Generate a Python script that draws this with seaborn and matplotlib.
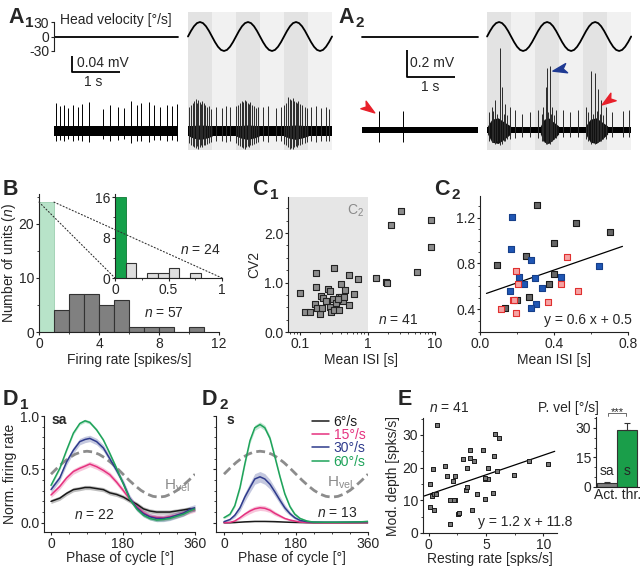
import numpy as np
import pandas as pd
import matplotlib
matplotlib.use("Agg")
import matplotlib.pyplot as plt
import seaborn as sns
from matplotlib.patches import ConnectionPatch
from matplotlib.path import Path
from matplotlib.lines import Line2D
from matplotlib.ticker import MultipleLocator, NullFormatter

# ======================= DATA =======================
# --- Panel A: head-velocity stimulus (one cycle, 1/16 steps, deg/s)
vel_cycle = [0, 11.5, 21.2, 27.7, 30, 27.7, 21.2, 11.5, 0, -11.5, -21.2, -27.7, -30, -27.7, -21.2, -11.5]
n_cycles = 3
vel_period = 1.0  # s

# A1 recording (time in s, voltage in mV)
a1_rest = [0.0, 2.58]
a1_stim_start = 2.79
a1_noise = 0.012
a1_rest_t = [0.04, 0.125, 0.21, 0.29, 0.40, 0.50, 0.58, 0.73, 1.02, 1.17, 1.33, 1.46, 1.60, 1.73, 1.81,
             1.98, 2.08, 2.21, 2.35, 2.46, 2.56]
a1_rest_up = [0.070, 0.062, 0.066, 0.058, 0.064, 0.060, 0.068, 0.072, 0.056, 0.064, 0.060, 0.058, 0.074,
              0.066, 0.070, 0.072, 0.064, 0.060, 0.066, 0.062, 0.068]
a1_rest_dn = [-0.026, -0.022, -0.025, -0.020, -0.024, -0.022, -0.026, -0.028, -0.020, -0.024, -0.022,
              -0.021, -0.030, -0.024, -0.026, -0.027, -0.023, -0.022, -0.025, -0.022, -0.024]
a1_stim_t = [2.82, 2.86, 2.89, 2.92, 2.95, 2.98, 3.00, 3.03, 3.06, 3.09, 3.12, 3.15, 3.19, 3.23, 3.27,
             3.38, 3.50, 3.58, 3.66,
             3.80, 3.84, 3.88, 3.91, 3.94, 3.97, 4.00, 4.03, 4.06, 4.09, 4.12, 4.16, 4.20, 4.25,
             4.36, 4.46, 4.62, 4.72,
             4.80, 4.84, 4.88, 4.91, 4.94, 4.97, 5.00, 5.03, 5.06, 5.09, 5.13, 5.17, 5.22, 5.27,
             5.35, 5.45, 5.55, 5.66, 5.72]
a1_stim_up = [0.060, 0.065, 0.070, 0.075, 0.080, 0.070, 0.078, 0.072, 0.068, 0.075, 0.070, 0.065, 0.060, 0.062, 0.055,
              0.060, 0.058, 0.062, 0.060,
              0.062, 0.066, 0.070, 0.075, 0.072, 0.078, 0.074, 0.070, 0.068, 0.072, 0.066, 0.062, 0.058, 0.060,
              0.060, 0.062, 0.058, 0.060,
              0.065, 0.070, 0.085, 0.080, 0.078, 0.082, 0.076, 0.072, 0.070, 0.074, 0.068, 0.064, 0.060, 0.058,
              0.060, 0.062, 0.058, 0.060, 0.056]
a1_stim_dn = [-0.030, -0.034, -0.038, -0.040, -0.042, -0.038, -0.044, -0.040, -0.036, -0.040, -0.036, -0.034, -0.032, -0.030, -0.028,
              -0.026, -0.026, -0.028, -0.026,
              -0.030, -0.034, -0.038, -0.040, -0.042, -0.044, -0.040, -0.038, -0.040, -0.036, -0.034, -0.032, -0.030, -0.028,
              -0.026, -0.028, -0.026, -0.026,
              -0.032, -0.036, -0.040, -0.044, -0.042, -0.045, -0.040, -0.038, -0.040, -0.036, -0.034, -0.032, -0.030, -0.028,
              -0.026, -0.028, -0.026, -0.026, -0.025]
a1_burst_t = [[2.80, 2.90, 3.05, 3.20, 3.30], [3.78, 3.90, 4.03, 4.18, 4.28], [4.78, 4.90, 5.03, 5.18, 5.30]]
a1_burst_hi = [0.012, 0.014, 0.015, 0.014, 0.012]
a1_burst_lo = [-0.012, -0.018, -0.021, -0.017, -0.012]

# A2 recording
a2_rest = [0.146, 2.56]
a2_stim_start = 2.75
a2_noise = 0.022
a2_rest_t = [0.50, 1.00]
a2_rest_up = [0.14, 0.14]
a2_rest_dn = [-0.088, -0.088]
a2_stim_t = [2.80, 2.85, 2.88, 2.92, 2.96, 3.01, 3.06, 3.10, 3.13, 3.17, 3.23, 3.33, 3.47, 3.64,
             3.81, 3.90, 3.92, 3.97, 4.00, 4.02, 4.05, 4.08, 4.11, 4.14, 4.19, 4.33, 4.47, 4.64,
             4.81, 4.86, 4.92, 4.95, 5.00, 5.03, 5.06, 5.10, 5.13, 5.17, 5.23, 5.36, 5.57, 5.71]
a2_stim_up = [0.13, 0.17, 0.14, 0.22, 0.12, 0.61, 0.32, 0.12, 0.19, 0.11, 0.17, 0.15, 0.12, 0.13,
              0.15, 0.12, 0.17, 0.32, 0.46, 0.13, 0.47, 0.12, 0.17, 0.11, 0.15, 0.15, 0.13, 0.15,
              0.17, 0.13, 0.44, 0.12, 0.42, 0.14, 0.30, 0.12, 0.22, 0.11, 0.17, 0.13, 0.14, 0.15]
a2_stim_dn = [-0.08, -0.09, -0.09, -0.10, -0.08, -0.11, -0.10, -0.08, -0.08, -0.07, -0.07, -0.06, -0.05, -0.05,
              -0.06, -0.08, -0.08, -0.10, -0.10, -0.09, -0.10, -0.08, -0.08, -0.07, -0.06, -0.05, -0.05, -0.05,
              -0.07, -0.08, -0.10, -0.09, -0.10, -0.09, -0.09, -0.08, -0.08, -0.07, -0.07, -0.05, -0.05, -0.05]
a2_burst_t = [[2.76, 2.85, 2.98, 3.10, 3.24], [3.86, 3.94, 4.03, 4.13, 4.24], [4.80, 4.90, 5.02, 5.14, 5.26]]
a2_burst_hi = [0.03, 0.08, 0.09, 0.06, 0.03]
a2_burst_lo = [-0.03, -0.09, -0.10, -0.07, -0.03]
# arrowheads in A2: (time, mV, pointing angle in deg, colour)
a2_arrows = [(0.27, 0.163, -35, '#e8202a'), (4.27, 0.45, 192, '#1f3a93'), (5.27, 0.222, 215, '#e8202a')]

# --- Panel B: firing-rate histograms
b_edges = [0, 1, 2, 3, 4, 5, 6, 7, 8, 9, 10, 11]
b_counts = [24, 4, 7, 7, 5, 6, 1, 1, 1, 0, 1]
bi_edges = [0, 0.1, 0.2, 0.3, 0.4, 0.5, 0.6, 0.7, 0.8]
bi_counts = [16, 3, 0, 1, 1, 2, 0, 1]

# --- Panel C1: CV2 vs mean ISI (log)
c1_isi = [0.099, 0.119, 0.139, 0.167, 0.175, 0.171, 0.181, 0.199, 0.204, 0.211, 0.220, 0.247, 0.256, 0.277,
          0.277, 0.287, 0.304, 0.315, 0.322, 0.341, 0.373, 0.382, 0.405, 0.405, 0.428, 0.454, 0.470, 0.526,
          0.526, 0.640, 0.718, 1.35, 1.90, 1.97, 2.26, 3.18, 5.45, 8.61, 8.71, 0.24, 0.36]
c1_cv2 = [0.78, 0.40, 0.41, 0.57, 1.19, 0.91, 0.49, 0.37, 0.73, 0.49, 0.68, 0.63, 0.87, 0.83,
          0.51, 0.40, 0.67, 1.30, 0.45, 0.58, 0.45, 0.70, 0.98, 0.71, 0.63, 0.70, 0.85, 0.55,
          1.15, 0.77, 1.08, 1.10, 1.02, 1.00, 2.17, 2.45, 1.21, 2.27, 1.71, 0.62, 0.66]

# --- Panel C2: zoom, linear
c2_gray_x = [0.094, 0.135, 0.201, 0.248, 0.266, 0.306, 0.374, 0.399, 0.401, 0.518, 0.705]
c2_gray_y = [0.785, 0.406, 0.476, 0.868, 0.509, 1.312, 0.618, 0.709, 0.979, 1.156, 1.079]
c2_blue_x = [0.173, 0.165, 0.162, 0.210, 0.239, 0.277, 0.299, 0.333, 0.302, 0.273, 0.437, 0.642]
c2_blue_y = [1.209, 0.926, 0.562, 0.685, 0.621, 0.826, 0.671, 0.588, 0.441, 0.412, 0.685, 0.774]
c2_red_x = [0.112, 0.176, 0.182, 0.194, 0.207, 0.194, 0.365, 0.437, 0.468, 0.531]
c2_red_y = [0.397, 0.479, 0.479, 0.735, 0.618, 0.362, 0.459, 0.621, 0.856, 0.559]
c2_fit = [0.56, 0.518]          # slope, intercept
c2_fit_range = [0.035, 0.77]

# --- Panel D: normalised firing rate vs phase
d_speeds = ['6°/s', '15°/s', '30°/s', '60°/s']
d_colors = {'6°/s': '#1a1a1a', '15°/s': '#e5317f', '30°/s': '#2e3a8c', '60°/s': '#1ea35a'}
hvel_phase = [0, 15, 30, 45, 60, 75, 90, 105, 120, 135, 150, 165, 180, 195, 210, 225, 240, 255, 270,
              285, 300, 315, 330, 345, 360]
hvel_norm = [0.455, 0.511, 0.563, 0.607, 0.641, 0.663, 0.670, 0.663, 0.641, 0.607, 0.563, 0.511, 0.455,
             0.399, 0.348, 0.303, 0.269, 0.247, 0.240, 0.247, 0.269, 0.303, 0.348, 0.399, 0.455]

d1_phase = [0, 22, 39, 56, 72, 85, 97, 114, 131, 147, 164, 181, 197, 214, 231, 247, 264, 281, 297, 314, 331, 347, 360]
d1_rate = {
    '60°/s': [0.35, 0.51, 0.68, 0.84, 0.93, 0.955, 0.94, 0.87, 0.775, 0.65, 0.51, 0.36, 0.22, 0.13, 0.07, 0.04,
              0.025, 0.03, 0.04, 0.06, 0.08, 0.11, 0.13],
    '30°/s': [0.31, 0.42, 0.57, 0.68, 0.76, 0.78, 0.79, 0.76, 0.70, 0.60, 0.49, 0.37, 0.23, 0.14, 0.085, 0.056,
              0.04, 0.04, 0.05, 0.07, 0.09, 0.125, 0.14],
    '15°/s': [0.26, 0.34, 0.42, 0.48, 0.51, 0.53, 0.55, 0.525, 0.49, 0.45, 0.38, 0.30, 0.22, 0.15, 0.094, 0.06,
              0.05, 0.047, 0.056, 0.07, 0.09, 0.11, 0.125],
    '6°/s': [0.20, 0.23, 0.275, 0.31, 0.32, 0.33, 0.33, 0.32, 0.31, 0.28, 0.265, 0.24, 0.205, 0.175, 0.13, 0.11,
             0.10, 0.10, 0.10, 0.11, 0.12, 0.13, 0.13],
}
d1_sem = {'60°/s': 0.015, '30°/s': 0.03, '15°/s': 0.025, '6°/s': 0.02}

d2_phase = [0, 15, 27, 40, 52, 65, 77, 90, 102, 115, 127, 140, 152, 165, 177, 190, 207, 223, 250, 280, 310, 340, 360]
d2_rate = {
    '60°/s': [0.047, 0.08, 0.16, 0.33, 0.55, 0.77, 0.89, 0.92, 0.89, 0.79, 0.62, 0.43, 0.27, 0.15, 0.08, 0.04,
              0.016, 0.006, 0.005, 0.005, 0.006, 0.008, 0.012],
    '30°/s': [0.01, 0.03, 0.07, 0.14, 0.24, 0.33, 0.41, 0.43, 0.41, 0.36, 0.29, 0.21, 0.14, 0.085, 0.047, 0.022,
              0.01, 0.006, 0.005, 0.005, 0.006, 0.008, 0.01],
    '15°/s': [0.0, 0.003, 0.016, 0.047, 0.08, 0.11, 0.13, 0.14, 0.135, 0.117, 0.088, 0.063, 0.04, 0.025, 0.016,
              0.006, 0.002, 0.001, 0.0, 0.0, 0.0, 0.001, 0.002],
    '6°/s': [0.0, 0.0, 0.002, 0.005, 0.008, 0.01, 0.012, 0.012, 0.012, 0.011, 0.01, 0.008, 0.006, 0.004, 0.003,
             0.002, 0.001, 0.0, 0.0, 0.0, 0.0, 0.0, 0.0],
}
d2_sem = {
    '60°/s': [0.01, 0.012, 0.015, 0.02, 0.022, 0.025, 0.025, 0.025, 0.025, 0.025, 0.025, 0.022, 0.02, 0.018,
              0.015, 0.012, 0.01, 0.008, 0.006, 0.006, 0.006, 0.006, 0.006],
    '30°/s': [0.005, 0.01, 0.02, 0.03, 0.04, 0.045, 0.05, 0.05, 0.05, 0.045, 0.04, 0.035, 0.03, 0.02, 0.015,
              0.01, 0.005, 0.004, 0.003, 0.003, 0.003, 0.003, 0.003],
    '15°/s': [0.002, 0.003, 0.008, 0.015, 0.02, 0.025, 0.025, 0.025, 0.025, 0.022, 0.02, 0.015, 0.01, 0.008,
              0.005, 0.003, 0.002, 0.002, 0.002, 0.002, 0.002, 0.002, 0.002],
    '6°/s': [0.002] * 23,
}

# --- Panel E
e_rest = [0.73, 0.15, 0.12, 0.35, 0.26, 0.49, 0.49, 1.42, 1.57, 1.89, 1.89, 2.15, 2.30, 2.30, 2.53, 2.67,
          3.00, 3.31, 3.26, 3.34, 3.58, 3.63, 3.98, 3.75, 4.19, 4.71, 4.88, 4.88, 5.15, 5.15, 5.58, 5.67,
          5.81, 5.93, 6.16, 7.41, 8.78, 10.44, 2.20, 0.60, 4.90]
e_mod = [33.0, 14.9, 8.0, 19.7, 11.2, 12.0, 7.1, 20.4, 17.3, 10.1, 2.9, 15.9, 10.1, 17.3, 5.9, 6.1,
         22.8, 20.0, 13.1, 14.1, 25.5, 23.1, 22.0, 7.1, 12.0, 25.3, 16.6, 10.5, 19.9, 16.6, 12.3, 23.7,
         30.4, 18.9, 29.2, 17.7, 21.9, 21.0, 10.1, 11.8, 16.8]
e_fit = [1.2, 11.8]
e_fit_range = [-0.4, 11.0]
e_groups = ['sa', 's']
e_thr = [2.0, 28.8]
e_thr_err = [0.6, 3.5]

# ======================= STYLE =======================
sns.set_style("ticks")
plt.rcParams['font.family'] = ['Liberation Sans', 'DejaVu Sans']
plt.rcParams.update({
    'mathtext.fontset': 'custom',
    'mathtext.rm': 'Liberation Sans',
    'mathtext.it': 'Liberation Sans:italic',
    'mathtext.bf': 'Liberation Sans:bold',
    'axes.unicode_minus': False,
    'font.size': 10,
    'axes.linewidth': 0.8,
    'axes.edgecolor': '#222222',
    'xtick.major.size': 2.2, 'ytick.major.size': 2.2,
    'xtick.minor.size': 1.3, 'ytick.minor.size': 1.3,
    'xtick.major.width': 0.8, 'ytick.major.width': 0.8,
    'xtick.minor.width': 0.6, 'ytick.minor.width': 0.6,
    'xtick.major.pad': 1.2, 'ytick.major.pad': 1.2,
    'xtick.labelsize': 10, 'ytick.labelsize': 10,
    'axes.labelsize': 10,
})

W, H = 640, 567
fig = plt.figure(figsize=(W / 100, H / 100), dpi=100)


def box(l, t, r, b):
    return fig.add_axes([l / W, 1 - b / H, (r - l) / W, (b - t) / H])


def ftext(x, y, s, **kw):
    fig.text(x / W, 1 - y / H, s, **kw)


def despine(ax):
    ax.spines['top'].set_visible(False)
    ax.spines['right'].set_visible(False)


shade_light = '#f1f1f1'
shade_dark = '#e3e3e3'


def arrow_marker(angle):
    v = np.array([(1.0, 0.0), (-0.8, 0.6), (-0.35, 0.0), (-0.8, -0.6), (1.0, 0.0)])
    a = np.deg2rad(angle)
    rot = np.array([[np.cos(a), -np.sin(a)], [np.sin(a), np.cos(a)]])
    v = v @ rot.T
    return Path(v, [Path.MOVETO, Path.LINETO, Path.LINETO, Path.LINETO, Path.CLOSEPOLY])


def draw_trace(ax, rest, stim_start, noise, rest_t, rest_up, rest_dn, stim_t, stim_up, stim_dn,
               burst_t, burst_hi, burst_lo, lw_sp):
    stim_end = stim_start + n_cycles * vel_period
    ax.axvspan(stim_start, stim_end, color=shade_light, lw=0, zorder=0)
    for k in range(n_cycles):
        s0 = stim_start + k * vel_period
        ax.axvspan(s0, s0 + vel_period / 2, color=shade_dark, lw=0, zorder=0)
    for t0, t1 in [rest, [stim_start, stim_end]]:
        ax.fill_between([t0, t1], [-noise, -noise], [noise, noise], color='k', lw=0, zorder=2)
    for bt in burst_t:
        ax.fill_between(bt, burst_lo, burst_hi, color='#111111', lw=0, zorder=2)
    ax.vlines(rest_t, rest_dn, rest_up, color='k', lw=lw_sp, zorder=3)
    ax.vlines(stim_t, stim_dn, stim_up, color='#2a2a2a', lw=lw_sp, zorder=3)


def draw_velocity(ax, rest, stim_start):
    ax.plot(rest, [0, 0], color='k', lw=1.3)
    nstep = len(vel_cycle)
    tt = stim_start + np.arange(nstep * n_cycles + 1) * vel_period / nstep
    vv = vel_cycle * n_cycles + [vel_cycle[0]]
    ax.plot(tt, vv, color='k', lw=1.3)
    ax.set_ylim(-44.5, 44.5)
    ax.patch.set_alpha(0)
    for s in ['top', 'right', 'bottom']:
        ax.spines[s].set_visible(False)
    ax.xaxis.set_visible(False)


# ======================= PANEL A1 =======================
axA1 = box(54, 12, 333, 150)
axA1.set_xlim(0, 5.81)
axA1.set_ylim(-0.0475, 0.2975)
axA1.axis('off')
draw_trace(axA1, a1_rest, a1_stim_start, a1_noise, a1_rest_t, a1_rest_up, a1_rest_dn,
           a1_stim_t, a1_stim_up, a1_stim_dn, a1_burst_t, a1_burst_hi, a1_burst_lo, 0.7)
sb_x, sb_y = 0.375, 0.1475
axA1.plot([sb_x, sb_x, sb_x + 1.0], [sb_y + 0.04, sb_y, sb_y], color='k', lw=1.3, solid_capstyle='butt')
axA1.text(sb_x + 0.1, sb_y + 0.022, '0.04 mV', fontsize=10, va='center', ha='left')
axA1.text(sb_x + 0.45, sb_y - 0.008, '1 s', fontsize=10, va='top', ha='center')

axV1 = box(54, 15, 333, 58)
axV1.set_xlim(0, 5.81)
draw_velocity(axV1, a1_rest, a1_stim_start)
axV1.spines['left'].set_bounds(-30, 30)
axV1.set_yticks([-30, 0, 30])
axV1.set_yticklabels(['-30', '0', '30'])
axV1.text(0.125, 34, 'Head velocity [°/s]', fontsize=10, va='center', ha='left')

# ======================= PANEL A2 =======================
axA2 = box(355, 12, 635, 150)
axA2.set_xlim(0, 5.83)
axA2.set_ylim(-0.148, 0.873)
axA2.axis('off')
draw_trace(axA2, a2_rest, a2_stim_start, a2_noise, a2_rest_t, a2_rest_up, a2_rest_dn,
           a2_stim_t, a2_stim_up, a2_stim_dn, a2_burst_t, a2_burst_hi, a2_burst_lo, 0.7)
sb2_x, sb2_y = 1.083, 0.392
axA2.plot([sb2_x, sb2_x, sb2_x + 1.0], [sb2_y + 0.2, sb2_y, sb2_y], color='k', lw=1.3, solid_capstyle='butt')
axA2.text(sb2_x + 0.07, sb2_y + 0.105, '0.2 mV', fontsize=10, va='center', ha='left')
axA2.text(sb2_x + 0.48, sb2_y - 0.02, '1 s', fontsize=10, va='top', ha='center')
for (t, v, ang, col) in a2_arrows:
    axA2.plot([t], [v], marker=arrow_marker(ang), ms=11, color=col, ls='none', zorder=5)

axV2 = box(355, 15, 635, 58)
axV2.set_xlim(0, 5.83)
draw_velocity(axV2, a2_rest, a2_stim_start)
axV2.spines['left'].set_visible(False)
axV2.set_yticks([])

# ======================= PANEL B =======================
axB = box(39, 194, 219, 332)
b_centers = [(a + b) / 2 for a, b in zip(b_edges[:-1], b_edges[1:])]
sns.histplot(x=b_centers[:1], weights=b_counts[:1], bins=b_edges[:2], color='#b8e3c9',
             edgecolor='#9ccfb0', linewidth=0.6, alpha=1, ax=axB)
sns.histplot(x=b_centers[1:], weights=b_counts[1:], bins=b_edges[1:], color='#808080',
             edgecolor='#333333', linewidth=0.8, alpha=1, ax=axB)
axB.set_xlim(0, 12)
axB.set_ylim(0, 25.5)
axB.set_xticks([0, 4, 8, 12])
axB.xaxis.set_minor_locator(MultipleLocator(2))
axB.set_yticks([0, 10, 20])
axB.yaxis.set_minor_locator(MultipleLocator(5))
axB.set_xlabel('Firing rate [spikes/s]', labelpad=1.5)
axB.set_ylabel('Number of units ($n$)', labelpad=0.5)
axB.text(8.3, 3.5, '$n$ = 57', ha='center', va='center', fontsize=10)
despine(axB)

axBi = box(115, 194, 222, 278)
bi_centers = [(a + b) / 2 for a, b in zip(bi_edges[:-1], bi_edges[1:])]
sns.histplot(x=bi_centers[:1], weights=bi_counts[:1], bins=bi_edges[:2], color='#14a04a',
             edgecolor='#0d7a35', linewidth=0.6, alpha=1, ax=axBi)
sns.histplot(x=bi_centers[1:], weights=bi_counts[1:], bins=bi_edges[1:], color='#dedede',
             edgecolor='#333333', linewidth=0.8, alpha=1, ax=axBi)
axBi.set_xlim(0, 1)
axBi.set_ylim(0, 16.6)
axBi.set_xticks([0, 0.5, 1])
axBi.set_xticklabels(['0', '0.5', '1'])
axBi.xaxis.set_minor_locator(MultipleLocator(0.25))
axBi.set_yticks([0, 8, 16])
axBi.yaxis.set_minor_locator(MultipleLocator(4))
axBi.set_xlabel('')
axBi.set_ylabel('')
axBi.patch.set_alpha(0)
axBi.text(0.80, 5.5, '$n$ = 24', ha='center', va='center', fontsize=10)
despine(axBi)
for (xa, xb) in [(0, 0), (1, 1)]:
    con = ConnectionPatch(xyA=(xa, 24), coordsA=axB.transData, xyB=(xb, 0), coordsB=axBi.transData,
                          linestyle=(0, (1, 2)), color='#333333', lw=0.8)
    fig.add_artist(con)

# ======================= PANEL C1 =======================
axC1 = box(288, 197, 435, 332)
axC1.set_xscale('log')
c1_xlim = (0.0662, 10)
axC1.axvspan(c1_xlim[0], 1, color='#e6e6e6', lw=0, zorder=0)
sns.scatterplot(x=c1_isi, y=c1_cv2, marker='s', s=16, color='#8c8c8c', edgecolor='#222222',
                linewidth=0.8, ax=axC1, zorder=3)
axC1.set_xlim(*c1_xlim)
axC1.set_ylim(0, 2.73)
axC1.set_xticks([0.1, 1, 10])
axC1.set_xticklabels(['0.1', '1', '10'])
axC1.xaxis.set_minor_formatter(NullFormatter())
axC1.set_yticks([0, 1, 2])
axC1.set_yticklabels(['0.0', '1.0', '2.0'])
axC1.yaxis.set_minor_locator(MultipleLocator(0.25))
axC1.set_xlabel('Mean ISI [s]', labelpad=1.5)
axC1.set_ylabel('CV2', labelpad=2)
axC1.text(0.66, 2.46, 'C$_2$', color='#8a8a8a', ha='center', va='center', fontsize=10)
axC1.text(2.8, 0.24, '$n$ = 41', ha='center', va='center', fontsize=10)
despine(axC1)

# ======================= PANEL C2 =======================
axC2 = box(480, 196, 628, 332)
axC2.plot(c2_fit_range, [c2_fit[0] * x + c2_fit[1] for x in c2_fit_range], color='k', lw=0.9, zorder=2)
sns.scatterplot(x=c2_gray_x, y=c2_gray_y, marker='s', s=22, color='#666666', edgecolor='#1a1a1a',
                linewidth=0.8, ax=axC2, zorder=3)
sns.scatterplot(x=c2_blue_x, y=c2_blue_y, marker='s', s=22, color='#1f56b4', edgecolor='#163f8a',
                linewidth=0.8, ax=axC2, zorder=3)
sns.scatterplot(x=c2_red_x, y=c2_red_y, marker='s', s=22, color='#f6a3a3', edgecolor='#e0302f',
                linewidth=0.8, ax=axC2, zorder=3)
axC2.set_xlim(0, 0.8)
axC2.set_ylim(0.2, 1.39)
axC2.set_xticks([0, 0.4, 0.8])
axC2.set_xticklabels(['0.0', '0.4', '0.8'])
axC2.xaxis.set_minor_locator(MultipleLocator(0.2))
axC2.set_yticks([0.4, 0.8, 1.2])
axC2.yaxis.set_minor_locator(MultipleLocator(0.1))
axC2.set_xlabel('Mean ISI [s]', labelpad=1.5)
axC2.text(0.585, 0.305, 'y = 0.6 x + 0.5', ha='center', va='center', fontsize=10)
despine(axC2)


# ======================= PANEL D =======================
def panel_D(ax, phase, rates, sems):
    rows = []
    for sp in d_speeds:
        for p, v in zip(phase, rates[sp]):
            rows.append((sp, p, v))
    df = pd.DataFrame(rows, columns=['speed', 'phase', 'rate'])
    for sp in d_speeds:
        r = np.array(rates[sp])
        e = np.array(sems[sp])
        ax.fill_between(phase, r - e, r + e, color=d_colors[sp], alpha=0.28, lw=0)
    ax.plot(hvel_phase, hvel_norm, color='#8c8c8c', lw=2.0, ls=(0, (3.2, 1.6)), zorder=1)
    sns.lineplot(data=df, x='phase', y='rate', hue='speed', hue_order=d_speeds, palette=d_colors,
                 lw=1.1, legend=False, ax=ax, zorder=3)
    ax.set_ylim(-0.087, 1.0)
    ax.set_xticks([0, 180, 360])
    ax.xaxis.set_minor_locator(MultipleLocator(45))
    ax.set_yticks([0, 0.5, 1.0])
    ax.yaxis.set_minor_locator(MultipleLocator(0.1))
    ax.set_xlabel('Phase of cycle [°]', labelpad=0.5)
    despine(ax)


axD1 = box(44, 416, 195, 532)
panel_D(axD1, d1_phase, d1_rate, d1_sem)
axD1.set_xlim(-17.5, 360)
axD1.set_yticklabels(['0.0', '0.5', '1.0'])
axD1.set_ylabel('Norm. firing rate', labelpad=2)
axD1.text(2, 0.96, 'sa', fontweight='bold', ha='left', va='center', fontsize=10)
axD1.text(107, 0.07, '$n$ = 22', ha='center', va='center', fontsize=10)
axD1.text(283, 0.35, 'H$_{\\mathrm{vel}}$', color='#8c8c8c', ha='left', va='center', fontsize=11)

axD2 = box(216, 416, 368, 532)
panel_D(axD2, d2_phase, d2_rate, d2_sem)
axD2.set_xlim(-20, 360)
axD2.set_yticklabels([])
axD2.set_ylabel('')
axD2.text(7, 0.96, 's', fontweight='bold', ha='left', va='center', fontsize=10)
axD2.text(283, 0.09, '$n$ = 13', ha='center', va='center', fontsize=10)
axD2.text(257, 0.37, 'H$_{\\mathrm{vel}}$', color='#8c8c8c', ha='left', va='center', fontsize=11)
handles = [Line2D([0], [0], color=d_colors[sp], lw=1.1) for sp in d_speeds]
leg = axD2.legend(handles, d_speeds, loc='upper right', bbox_to_anchor=(1.02, 1.06), frameon=False,
                  fontsize=10, handlelength=1.2, handletextpad=0.35, labelspacing=-0.05, borderaxespad=0)
for txt, sp in zip(leg.get_texts(), d_speeds):
    txt.set_color(d_colors[sp])

# ======================= PANEL E =======================
axE = box(423, 418, 557, 533)
axE.plot(e_fit_range, [e_fit[0] * x + e_fit[1] for x in e_fit_range], color='k', lw=0.9, zorder=2)
sns.scatterplot(x=e_rest, y=e_mod, marker='s', s=9, color='#7a7a7a', edgecolor='#1a1a1a',
                linewidth=0.7, ax=axE, zorder=3)
axE.set_xlim(-0.5, 11.2)
axE.set_ylim(0, 35.2)
axE.set_xticks([0, 5, 10])
axE.set_yticks([0, 10, 20, 30])
axE.yaxis.set_minor_locator(MultipleLocator(5))
axE.xaxis.set_minor_locator(MultipleLocator(2.5))
axE.set_xlabel('Resting rate [spks/s]', labelpad=0.5)
axE.set_ylabel('Mod. depth [spks/s]', labelpad=2)
axE.text(1.75, 38.2, '$n$ = 41', ha='center', va='center', fontsize=10, clip_on=False)
axE.text(8.4, 3.4, 'y = 1.2 x + 11.8', ha='center', va='center', fontsize=10)
despine(axE)

axEi = box(596, 417, 639, 487)
axEi.bar([0, 1], e_thr, width=1.0, color=['#808080', '#1a9e4a'], edgecolor='#333333', linewidth=0.8)
axEi.errorbar([0, 1], e_thr, yerr=[[0, 0], e_thr_err], fmt='none', ecolor='#333333', elinewidth=0.8,
              capsize=2.5, capthick=0.8)
axEi.set_xlim(-0.55, 1.6)
axEi.set_ylim(0, 35.5)
axEi.set_xticks([])
axEi.set_yticks([0, 15, 30])
axEi.yaxis.set_minor_locator(MultipleLocator(5))
axEi.set_xlabel('Act. thr.', labelpad=1)
for xi, g in enumerate(e_groups):
    axEi.text(xi, 8.0, g, ha='center', va='center', fontsize=10)
axEi.plot([0.05, 0.05, 0.95, 0.95], [36.0, 37.6, 37.6, 36.0], color='#555555', lw=0.6, clip_on=False)
axEi.text(0.5, 37.9, '***', ha='center', va='center', fontsize=8, clip_on=False)
despine(axEi)
ftext(568, 408, 'P. vel [°/s]', ha='center', va='center', fontsize=10)

# ======================= PANEL LABELS =======================
for (x, y, letter, sub, dx) in [(8, 23, 'A', '1', 17), (338, 23, 'A', '2', 17), (3, 195, 'B', '', 0),
                               (252, 195, 'C', '1', 18), (434, 195, 'C', '2', 18),
                               (3, 405, 'D', '1', 17), (202, 405, 'D', '2', 17), (398, 405, 'E', '', 0)]:
    ftext(x, y, letter, fontsize=15.5, fontweight='bold', ha='left', va='baseline')
    if sub:
        ftext(x + dx, y + 4, sub, fontsize=11, fontweight='bold', ha='left', va='baseline')

fig.savefig('out.png', dpi=100)
